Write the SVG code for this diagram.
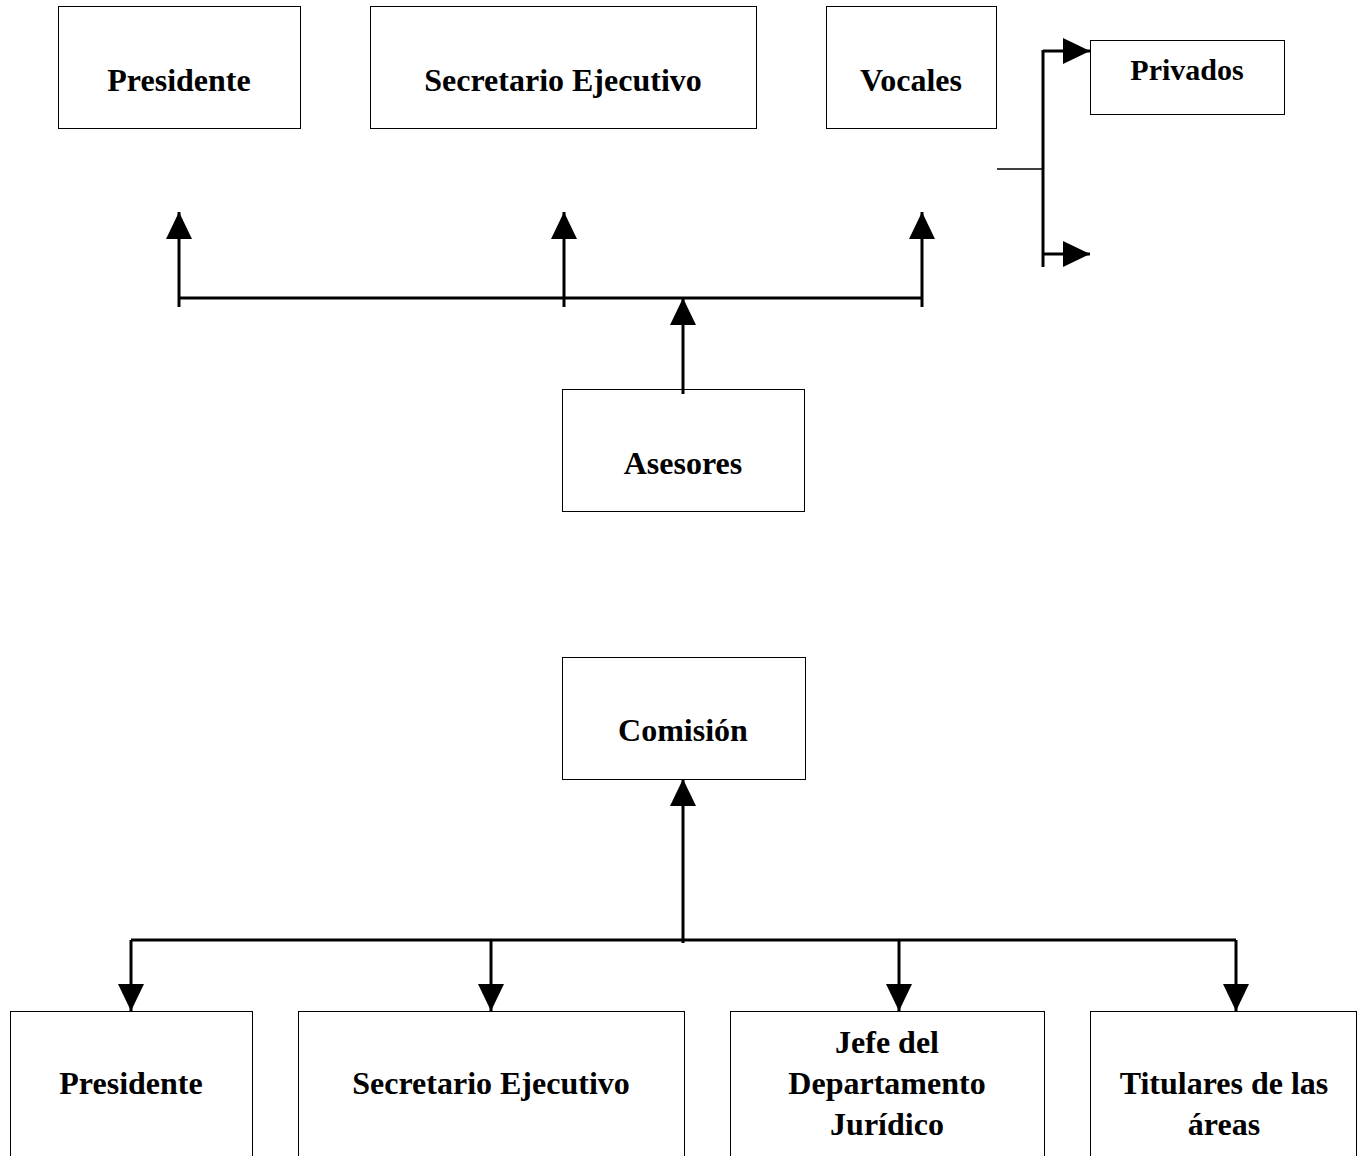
<svg xmlns="http://www.w3.org/2000/svg" width="1360" height="1156" viewBox="0 0 1360 1156">
<style>
.box{fill:#fff;stroke:#000;stroke-width:1}
.t{font-family:"Liberation Serif","Times New Roman",serif;font-weight:bold;font-size:32px;fill:#000;text-anchor:middle}
.c{fill:none;stroke:#000;stroke-width:3}
.thin{fill:none;stroke:#000;stroke-width:1.5}
</style>
<defs>
<marker id="ah" markerUnits="userSpaceOnUse" markerWidth="27" markerHeight="26" refX="27" refY="13" orient="auto">
<path d="M0,0 L27,13 L0,26 Z" fill="#000"/>
</marker>
</defs>
<rect width="1360" height="1156" fill="#fff"/>
<g id="n-presidente-top"><rect class="box" x="58.5" y="6.5" width="242" height="122"/><text class="t" x="179" y="91">Presidente</text></g>
<g id="n-secretario-top"><rect class="box" x="370.5" y="6.5" width="386" height="122"/><text class="t" x="563" y="91">Secretario Ejecutivo</text></g>
<g id="n-vocales"><rect class="box" x="826.5" y="6.5" width="170" height="122"/><text class="t" x="911" y="91">Vocales</text></g>
<g id="n-privados"><rect class="box" x="1090.5" y="40.5" width="194" height="74"/><text class="t" x="1187" y="80" style="font-size:30px">Privados</text></g>
<g id="n-asesores"><rect class="box" x="562.5" y="389.5" width="242" height="122"/><text class="t" x="683" y="474">Asesores</text></g>
<g id="n-comision"><rect class="box" x="562.5" y="657.5" width="243" height="122"/><text class="t" x="683" y="741">Comisión</text></g>
<g id="n-presidente-bot"><rect class="box" x="10.5" y="1011.5" width="242" height="160"/><text class="t" x="131" y="1094">Presidente</text></g>
<g id="n-secretario-bot"><rect class="box" x="298.5" y="1011.5" width="386" height="160"/><text class="t" x="491" y="1094">Secretario Ejecutivo</text></g>
<g id="n-jefe"><rect class="box" x="730.5" y="1011.5" width="314" height="160"/><text class="t" x="887" y="1053">Jefe del</text><text class="t" x="887" y="1094">Departamento</text><text class="t" x="887" y="1135">Jurídico</text></g>
<g id="n-titulares"><rect class="box" x="1090.5" y="1011.5" width="266" height="160"/><text class="t" x="1224" y="1094">Titulares de las</text><text class="t" x="1224" y="1135">áreas</text></g>
<g id="connectors">
<path class="c" d="M179,298 H922"/>
<path class="c" d="M179,307 V212" marker-end="url(#ah)"/>
<path class="c" d="M564,307 V212" marker-end="url(#ah)"/>
<path class="c" d="M922,307 V212" marker-end="url(#ah)"/>
<path class="c" d="M683,394 V298" marker-end="url(#ah)"/>
<path class="thin" d="M997,169 H1043"/>
<path class="c" d="M1043,267 V50"/>
<path class="c" d="M1043,51 H1090" marker-end="url(#ah)"/>
<path class="c" d="M1043,254 H1090" marker-end="url(#ah)"/>
<path class="c" d="M683,943 V779" marker-end="url(#ah)"/>
<path class="c" d="M131,940 H1236"/>
<path class="c" d="M131,940 V1011" marker-end="url(#ah)"/>
<path class="c" d="M491,940 V1011" marker-end="url(#ah)"/>
<path class="c" d="M899,940 V1011" marker-end="url(#ah)"/>
<path class="c" d="M1236,940 V1011" marker-end="url(#ah)"/>
</g>
</svg>
